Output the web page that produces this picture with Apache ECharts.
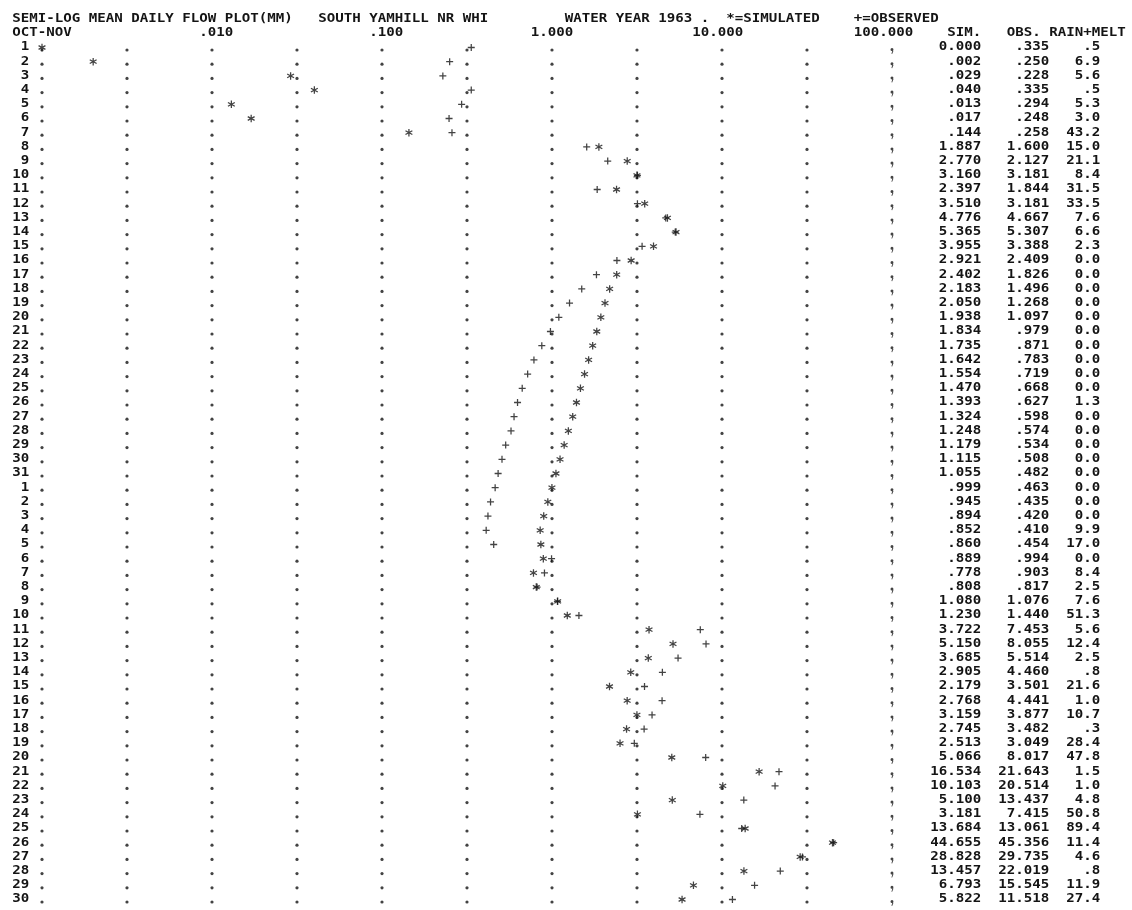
<!DOCTYPE html>
<html>
<head>
<meta charset="utf-8">
<title>South Yamhill NR WHI – Water Year 1963</title>
<script src="https://cdn.jsdelivr.net/npm/echarts@6.0.0/dist/echarts.min.js"></script>
<style>
  html, body { margin: 0; padding: 0; background: #ffffff; }
  #chart { width: 1132px; height: 910px; }
</style>
</head>
<body>
<div id="chart"></div>
<script>
// Day-of-month categories, October then November
const octDays = ['1','2','3','4','5','6','7','8','9','10','11','12','13','14','15','16',
  '17','18','19','20','21','22','23','24','25','26','27','28','29','30','31'];
const novDays = ['1','2','3','4','5','6','7','8','9','10','11','12','13','14','15','16',
  '17','18','19','20','21','22','23','24','25','26','27','28','29','30'];
const dayLabels = octDays.concat(novDays);

// Mean daily flow (mm), simulated
const simFlow = [
  0.000, 0.002, 0.029, 0.040, 0.013, 0.017, 0.144, 1.887, 2.770, 3.160, 2.397, 3.510, 4.776, 5.365, 3.955, 2.921,
  2.402, 2.183, 2.050, 1.938, 1.834, 1.735, 1.642, 1.554, 1.470, 1.393, 1.324, 1.248, 1.179, 1.115, 1.055,
  0.999, 0.945, 0.894, 0.852, 0.860, 0.889, 0.778, 0.808, 1.080, 1.230, 3.722, 5.150, 3.685, 2.905, 2.179,
  2.768, 3.159, 2.745, 2.513, 5.066, 16.534, 10.103, 5.100, 3.181, 13.684, 44.655, 28.828, 13.457, 6.793, 5.822
];
// Mean daily flow (mm), observed
const obsFlow = [
  0.335, 0.250, 0.228, 0.335, 0.294, 0.248, 0.258, 1.600, 2.127, 3.181, 1.844, 3.181, 4.667, 5.307, 3.388, 2.409,
  1.826, 1.496, 1.268, 1.097, 0.979, 0.871, 0.783, 0.719, 0.668, 0.627, 0.598, 0.574, 0.534, 0.508, 0.482,
  0.463, 0.435, 0.420, 0.410, 0.454, 0.994, 0.903, 0.817, 1.076, 1.440, 7.453, 8.055, 5.514, 4.460, 3.501,
  4.441, 3.877, 3.482, 3.049, 8.017, 21.643, 20.514, 13.437, 7.415, 13.061, 45.356, 29.735, 22.019, 15.545, 11.518
];
// Rain + melt (mm)
const rainMelt = [
  0.5, 6.9, 5.6, 0.5, 5.3, 3.0, 43.2, 15.0, 21.1, 8.4, 31.5, 33.5, 7.6, 6.6, 2.3, 0.0,
  0.0, 0.0, 0.0, 0.0, 0.0, 0.0, 0.0, 0.0, 0.0, 1.3, 0.0, 0.0, 0.0, 0.0, 0.0,
  0.0, 0.0, 0.0, 9.9, 17.0, 0.0, 8.4, 2.5, 7.6, 51.3, 5.6, 12.4, 2.5, 0.8, 21.6,
  1.0, 10.7, 0.3, 28.4, 47.8, 1.5, 1.0, 4.8, 50.8, 89.4, 11.4, 4.6, 0.8, 11.9, 27.4
];

// Log scale: labelled decades and dotted half-decade guide columns
const tickValues = [0.01, 0.1, 1, 10, 100];
const tickLabels = ['.010', '.100', '1.000', '10.000', '100.000'];
const guideColumns = [0.001, 0.003162, 0.01, 0.03162, 0.1, 0.3162, 1, 3.162, 10, 31.62];
const borderColumn = 100;

const X_MIN = 0.001, X_MAX = 100;
const CELLS = 100;            // print positions across the five decades
const INK = '#141414';
const FONT_SIZE = 11.5;
const FONT = 'bold ' + FONT_SIZE + 'px "DejaVu Sans Mono", "Liberation Mono", monospace';

// advance width of one glyph, used to stretch text to the print pitch
const measureCtx = document.createElement('canvas').getContext('2d');
measureCtx.font = FONT;
const GLYPH_ADVANCE = measureCtx.measureText('0000000000').width / 10;

function fmtFlow(v) {
  if (v === 0) return '0.000';
  const s = v.toFixed(3);
  return v < 1 ? s.slice(1) : s;
}
function fmtRain(v) {
  if (v === 0) return '0.0';
  const s = v.toFixed(1);
  return v < 1 ? s.slice(1) : s;
}

const ASTERISK = 'path://M4.2,0H5.8V10H4.2Z' +
  'M0.27,3.19L1.07,1.81L9.73,6.81L8.93,8.19Z' +
  'M1.07,8.19L0.27,6.81L8.93,1.81L9.73,3.19Z';
const PLUS = 'path://M0,4.1H10V5.9H0Z M4.1,0H5.9V10H4.1Z';
const COMMA = 'path://M2,0A2,2 0 1 1 1.9,0Z M2.6,3.2L4,3.6L2.2,8L1.2,7.8Z';

const chart = echarts.init(document.getElementById('chart'), null, { renderer: 'canvas' });

const guideDots = [];
guideColumns.forEach(v => dayLabels.forEach((d, i) => guideDots.push([v, i])));
const borderDots = dayLabels.map((d, i) => [borderColumn, i]);

function textCell(text, x, y, scale, align) {
  return {
    type: 'text', x: x, y: y, scaleX: scale,
    style: {
      text: text, font: FONT, fill: INK,
      align: align, textAlign: align,
      verticalAlign: 'middle', textVerticalAlign: 'middle'
    }
  };
}

chart.setOption({
  animation: false,
  backgroundColor: '#ffffff',
  grid: { left: 42, right: 240, top: 40.4, bottom: 3.4, containLabel: false },
  xAxis: {
    type: 'log', logBase: 10, min: X_MIN, max: X_MAX,
    axisLine: { show: false }, axisTick: { show: false },
    axisLabel: { show: false }, splitLine: { show: false }
  },
  yAxis: {
    type: 'category', data: dayLabels, inverse: true, boundaryGap: true,
    axisLine: { show: false }, axisTick: { show: false },
    axisLabel: { show: false }, splitLine: { show: false }
  },
  series: [
    {
      name: 'guide', type: 'scatter', data: guideDots, silent: true, z: 1,
      symbol: 'circle', symbolSize: 3.2, symbolOffset: [0, 2.5],
      itemStyle: { color: INK }
    },
    {
      name: 'border', type: 'scatter', data: borderDots, silent: true, z: 1,
      symbol: COMMA, symbolSize: [3, 6], symbolOffset: [0, 3.5],
      itemStyle: { color: INK }
    },
    {
      name: '+=OBSERVED', type: 'scatter', z: 2,
      data: obsFlow.map((v, i) => [Math.max(v, X_MIN), i]),
      symbol: PLUS, symbolSize: 7, itemStyle: { color: INK }
    },
    {
      name: '*=SIMULATED', type: 'scatter', z: 3,
      data: simFlow.map((v, i) => [Math.max(v, X_MIN), i]),
      symbol: ASTERISK, symbolSize: 7.5, itemStyle: { color: INK }
    },
    {
      // printed columns: day number, SIM., OBS., RAIN+MELT
      name: 'printout', type: 'custom', clip: false, silent: true, z: 4,
      data: dayLabels.map((d, i) => [X_MIN, i]),
      renderItem: function (params, api) {
        const i = api.value(1);
        const a = api.coord([X_MIN, i]);
        const b = api.coord([X_MAX, i]);
        const pitch = (b[0] - a[0]) / CELLS;
        const s = pitch / GLYPH_ADVANCE;
        const rightEdge = c => a[0] + pitch * (c + 0.5);
        const y = a[1];
        return {
          type: 'group',
          children: [
            textCell(dayLabels[i], rightEdge(-2), y, s, 'right'),
            textCell(fmtFlow(simFlow[i]), rightEdge(110), y, s, 'right'),
            textCell(fmtFlow(obsFlow[i]), rightEdge(118), y, s, 'right'),
            textCell(fmtRain(rainMelt[i]), rightEdge(124), y, s, 'right')
          ]
        };
      }
    }
  ]
});

// Heading lines, laid out on the same print grid as the plot
(function drawHeading() {
  const p0 = chart.convertToPixel({ gridIndex: 0 }, [X_MIN, 0]);
  const p1 = chart.convertToPixel({ gridIndex: 0 }, [X_MAX, 1]);
  const pitch = (p1[0] - p0[0]) / CELLS;
  const rowStep = p1[1] - p0[1];
  const s = pitch / GLYPH_ADVANCE;
  const line1 = p0[1] - 2 * rowStep;
  const line2 = p0[1] - rowStep;
  const leftEdge = c => p0[0] + pitch * (c - 0.5);
  const rightEdge = c => p0[0] + pitch * (c + 0.5);

  const elements = [
    textCell('SEMI-LOG MEAN DAILY FLOW PLOT(MM)', leftEdge(-3), line1, s, 'left'),
    textCell('SOUTH YAMHILL NR WHI', leftEdge(33), line1, s, 'left'),
    textCell('WATER YEAR 1963 .', leftEdge(62), line1, s, 'left'),
    textCell('*=SIMULATED', leftEdge(81), line1, s, 'left'),
    textCell('+=OBSERVED', leftEdge(96), line1, s, 'left'),
    textCell('OCT-NOV', leftEdge(-3), line2, s, 'left'),
    textCell('SIM.', rightEdge(110), line2, s, 'right'),
    textCell('OBS.', rightEdge(117), line2, s, 'right'),
    textCell('RAIN+MELT', rightEdge(127), line2, s, 'right')
  ];
  tickValues.forEach((t, k) => {
    const x = chart.convertToPixel({ gridIndex: 0 }, [t, 0])[0];
    elements.push(textCell(tickLabels[k], x + 2.5 * pitch, line2, s, 'right'));
  });
  chart.setOption({ graphic: { elements: elements } });
})();
</script>
</body>
</html>
